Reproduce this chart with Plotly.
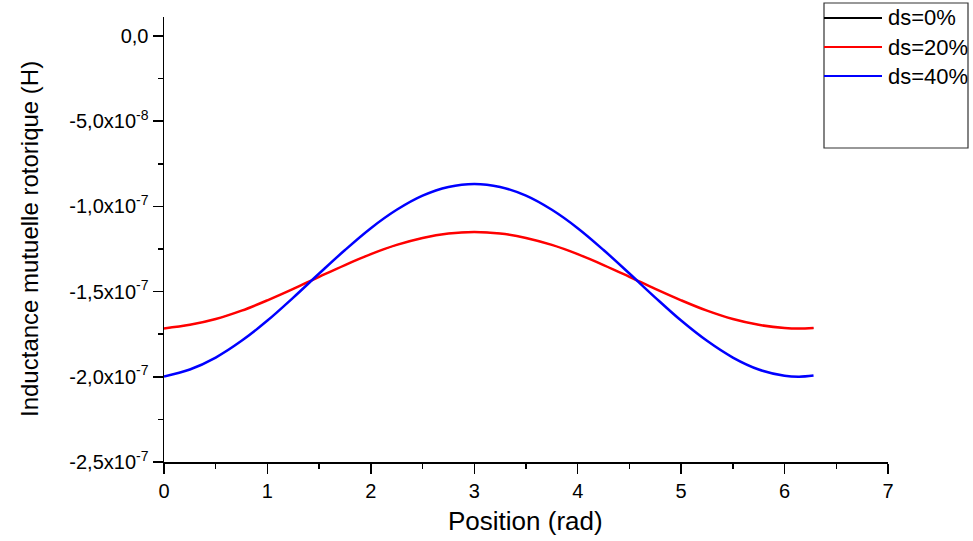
import plotly.graph_objects as go

# Data (inductance values in units of 1e-7 H)
position = [0.0, 0.25, 0.5, 0.75, 1.0, 1.25, 1.5, 1.75, 2.0, 2.25, 2.5, 2.75, 3.0,
            3.25, 3.5, 3.75, 4.0, 4.25, 4.5, 4.75, 5.0, 5.25, 5.5, 5.75, 6.0, 6.14, 6.28]
ds0 = [-1.716, -1.695, -1.661, -1.612, -1.551, -1.484, -1.413, -1.344, -1.280, -1.226, -1.185,
       -1.159, -1.150, -1.159, -1.185, -1.226, -1.280, -1.344, -1.413, -1.484, -1.551, -1.612,
       -1.661, -1.695, -1.714, -1.717, -1.714]
ds20 = [-1.716, -1.695, -1.661, -1.612, -1.551, -1.484, -1.413, -1.344, -1.280, -1.226, -1.185,
        -1.159, -1.150, -1.159, -1.185, -1.226, -1.280, -1.344, -1.413, -1.484, -1.551, -1.612,
        -1.661, -1.695, -1.714, -1.717, -1.714]
ds40 = [-1.998, -1.957, -1.887, -1.789, -1.670, -1.535, -1.394, -1.256, -1.128, -1.020, -0.937,
        -0.886, -0.868, -0.886, -0.937, -1.020, -1.128, -1.256, -1.394, -1.535, -1.670, -1.789,
        -1.887, -1.957, -1.994, -2.000, -1.993]
SCALE = 1e-7

series_names = ["ds=0%", "ds=20%", "ds=40%"]
series_colors = ["#000000", "#FF0000", "#0000FF"]
series_widths = [1.0, 2.5, 2.5]

x_ticks = [0, 1, 2, 3, 4, 5, 6, 7]
x_minor = [0.5, 1.5, 2.5, 3.5, 4.5, 5.5, 6.5]
y_ticks = [0.0, -5e-8, -1e-7, -1.5e-7, -2e-7, -2.5e-7]
y_ticktext = ["0,0", "-5,0x10<sup>-8</sup>", "-1,0x10<sup>-7</sup>", "-1,5x10<sup>-7</sup>",
              "-2,0x10<sup>-7</sup>", "-2,5x10<sup>-7</sup>"]
y_minor = [-2.5e-8, -7.5e-8, -1.25e-7, -1.75e-7, -2.25e-7]

FONT = "Liberation Sans, Arial, sans-serif"

FIG_W, FIG_H = 973, 541
L, R, T, B = 164, 888, 17, 462          # plot area in screen pixels
W, H = R - L, B - T


def px(xp):
    return (xp - L) / W


def py(yp):
    return (B - yp) / H


fig = go.Figure()
for name, vals, col, lw in zip(series_names, [ds0, ds20, ds40], series_colors, series_widths):
    fig.add_trace(go.Scatter(
        x=position, y=[v * SCALE for v in vals], mode="lines", name=name,
        line=dict(color=col, width=lw, shape="spline"), showlegend=False,
        hoverinfo="skip"))

axis_common = dict(showgrid=False, zeroline=False, showline=True, linecolor="black",
                   linewidth=1.5, ticks="outside", ticklen=10, tickwidth=1.5,
                   tickcolor="black", automargin=False,
                   tickfont=dict(family=FONT, size=20, color="black"))

fig.update_xaxes(range=[0, 7], tickmode="array", tickvals=x_ticks,
                 minor=dict(tickmode="array", tickvals=x_minor, ticklen=5,
                            tickwidth=1.5, tickcolor="black", ticks="outside"),
                 **axis_common)
fig.update_yaxes(range=[-2.5e-7, 1.115e-8], tickmode="array", tickvals=y_ticks,
                 ticktext=y_ticktext,
                 minor=dict(tickmode="array", tickvals=y_minor, ticklen=5,
                            tickwidth=1.5, tickcolor="black", ticks="outside"),
                 **axis_common)

shapes = [dict(type="rect", xref="paper", yref="paper", x0=px(824), x1=px(968),
               y0=py(148), y1=py(3), line=dict(color="#333333", width=1.2),
               fillcolor="white", layer="above")]
annotations = []
for i, (name, col) in enumerate(zip(series_names, series_colors)):
    yy = 18 + i * 29
    shapes.append(dict(type="line", xref="paper", yref="paper", x0=px(824), x1=px(882),
                       y0=py(yy), y1=py(yy), line=dict(color=col, width=2)))
    annotations.append(dict(text=name, xref="paper", yref="paper", x=px(886), y=py(yy),
                            xanchor="left", yanchor="middle", showarrow=False,
                            font=dict(family=FONT, size=22, color="black")))

annotations.append(dict(text="Position (rad)", xref="paper", yref="paper",
                        x=px(525), y=py(521), xanchor="center", yanchor="middle",
                        showarrow=False, font=dict(family=FONT, size=26, color="black")))
annotations.append(dict(text="Inductance mutuelle rotorique (H)", xref="paper", yref="paper",
                        x=px(30), y=py(239), xanchor="center", yanchor="middle",
                        textangle=-90, showarrow=False,
                        font=dict(family=FONT, size=24, color="black")))

fig.update_layout(width=FIG_W, height=FIG_H, plot_bgcolor="white", paper_bgcolor="white",
                  margin=dict(l=L, r=FIG_W - R, t=T, b=FIG_H - B),
                  shapes=shapes, annotations=annotations, showlegend=False,
                  hovermode=False)

# remove the default page margin so the figure sits at the window's top-left corner
fig.write_html("out.html",
               config={"displayModeBar": False, "staticPlot": True},
               post_script="document.body.style.margin='0px';"
                           "document.body.style.overflow='hidden';")
